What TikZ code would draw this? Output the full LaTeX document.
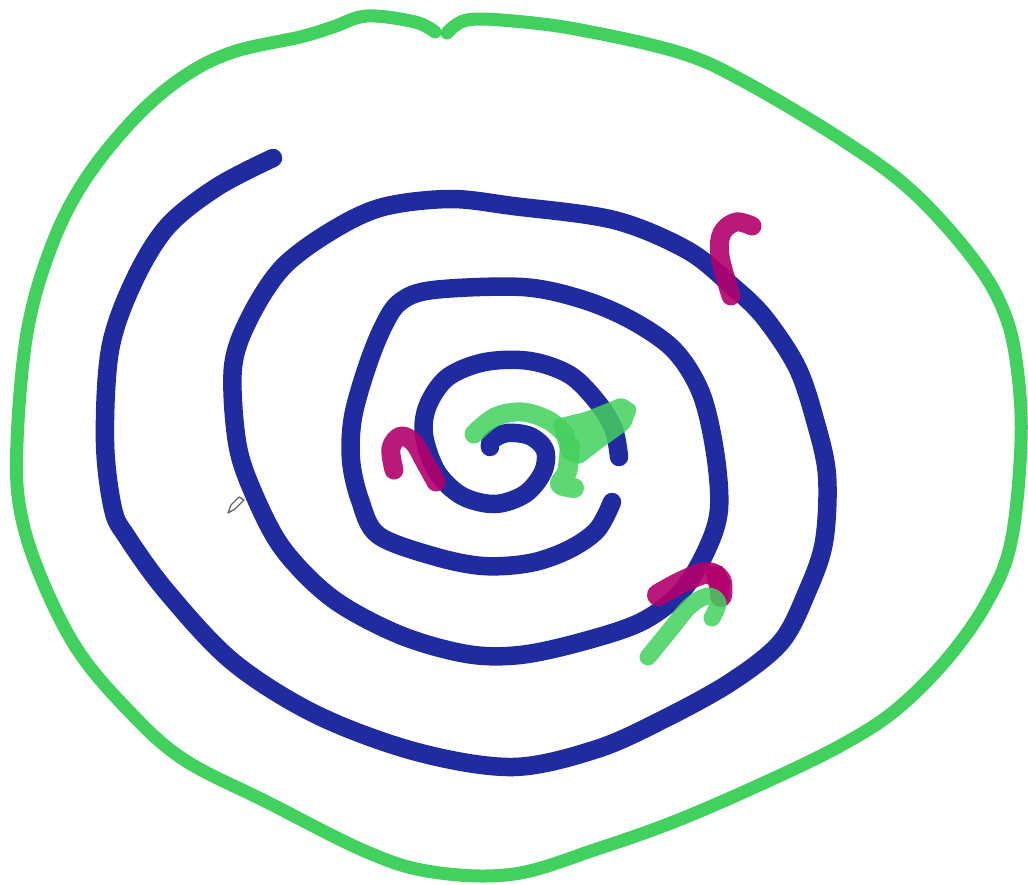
\documentclass[tikz,border=0pt]{standalone}
\usepackage{tikz}
\definecolor{lgreen}{RGB}{66,208,94}
\definecolor{dblue}{RGB}{33,43,160}
\definecolor{mag}{RGB}{178,0,108}
\tikzset{
  outline/.style={draw=lgreen, line width=13pt, line cap=round, line join=round},
  spiral/.style={draw=dblue, line width=18.5pt, line cap=round, line join=round},
  magmark/.style={draw=mag, line width=19pt, line cap=round, line join=round, opacity=.9},
  grmark/.style={draw=lgreen, line width=19pt, line cap=round, line join=round, opacity=.85},
}
\begin{document}
\begin{tikzpicture}[x=1pt,y=-1pt]
\useasboundingbox (0,0) rectangle (1028,884);
\fill[white] (0,0) rectangle (1028,884);
% outer green loop
\draw[outline] plot[smooth, tension=.6] coordinates {(447,33) (467,20) (513,21) (581,30) (681,53) (747,83) (847,143) (914,193) (974,260) (1004,312) (1017,367) (1021,442) (1011,542) (987,602) (947,659) (897,709) (847,742) (781,775) (681,819) (597,849) (514,874) (433,872) (367,852) (267,802) (183,759) (127,709) (77,649) (40,575) (20,509) (17,442) (27,333) (50,250) (83,183) (133,120) (183,77) (233,52) (300,37) (333,27) (367,16) (415,22) (435,32)};
% blue spiral
\draw[spiral] plot[smooth, tension=.55] coordinates {(273,158) (217,187) (167,227) (133,283) (110,350) (105,442) (113,509) (127,537) (167,592) (233,662) (317,715) (417,752) (513,767) (597,749) (664,719) (731,682) (781,642) (807,592) (824,542) (827,475) (815,420) (797,367) (764,317) (731,285) (687,250) (614,220) (513,206) (450,199) (383,207) (333,230) (283,267) (250,317) (233,367) (237,442) (253,492) (283,549) (333,599) (400,635) (467,654) (520,655) (581,642) (641,622) (681,592) (707,549) (719,509) (715,452) (701,393) (674,350) (631,320) (581,299) (522,287) (433,290) (400,302) (383,327) (367,367) (353,417) (351,460) (360,500) (378,535) (433,556) (483,566) (530,563) (568,550) (597,530) (612,502)};
\draw[spiral] plot[smooth, tension=.55] coordinates {(619,457) (614,430) (598,403) (570,375) (530,361) (485,362) (448,377) (428,405) (424,435) (437,472) (462,496) (495,504) (525,494) (543,472) (545,450) (530,436) (507,433) (492,440) (490,447)};
% magenta marks
\draw[magmark] plot[smooth, tension=.6] coordinates {(394,470) (391,448) (401,436) (414,443) (425,462) (436,482)};
\draw[magmark] plot[smooth, tension=.6] coordinates {(752,226) (736,222) (722,233) (720,256) (731,296)};
\draw[magmark, line width=22pt] plot[smooth, tension=.6] coordinates {(658,595) (682,582) (706,573) (720,580) (721,596)};
\fill[mag, opacity=.9] (704,566) -- (722,566) -- (730,582) -- (728,600) -- (712,600) -- cycle;
% green marks
\draw[grmark, line width=19pt] plot[smooth, tension=.6] coordinates {(474,434) (495,417) (522,412) (548,420) (565,434)};
\fill[lgreen, opacity=.85, rounded corners=5pt] (552,420) -- (585,412) -- (622,397) -- (638,407) -- (630,428) -- (602,448) -- (580,465) -- (562,458) -- cycle;
\draw[grmark, line width=20pt] plot[smooth, tension=.6] coordinates {(570,446) (567,472) (560,484) (574,488)};
\draw[grmark, line width=17pt] plot[smooth, tension=.6] coordinates {(648,657) (670,630) (690,606) (708,596) (718,603) (712,618)};
% pen cursor
\draw[gray!80!black, line width=1.3pt, line join=round] (228,513) -- (231,505) -- (239,497) -- (244,500) -- (235,509) -- cycle;
\end{tikzpicture}
\end{document}
